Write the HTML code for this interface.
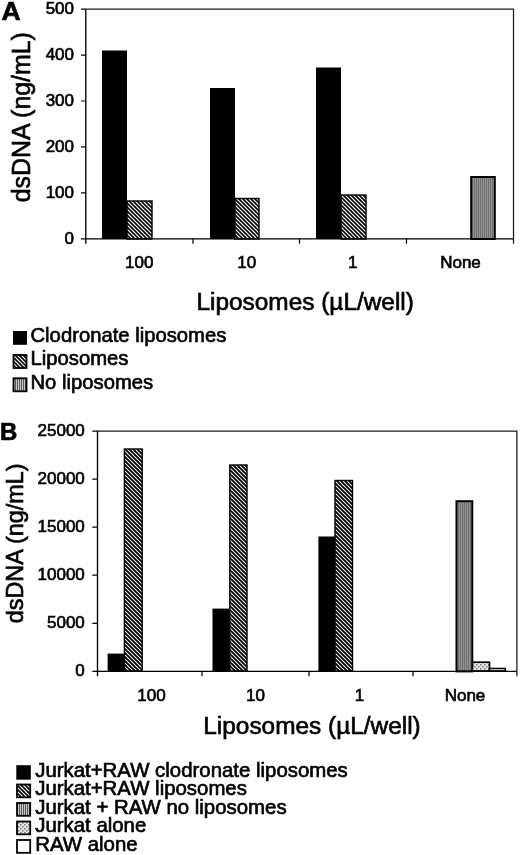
<!DOCTYPE html>
<html><head><meta charset="utf-8">
<style>
html,body{margin:0;padding:0;background:#fff;}
body{width:520px;height:855px;overflow:hidden;}
svg{display:block;filter:grayscale(1);}
text{font-family:"Liberation Sans",sans-serif;fill:#000;stroke:#000;stroke-width:0.65px;}
</style></head>
<body>
<svg width="520" height="855" viewBox="0 0 520 855">
<defs>
  <pattern id="hA" patternUnits="userSpaceOnUse" width="4" height="4">
    <rect width="4" height="4" fill="#fff"/>
    <path d="M-1,-1 L5,5 M-1,3 L1,5 M3,-1 L5,1" stroke="#000" stroke-width="1.6"/>
  </pattern>
  <pattern id="hB" patternUnits="userSpaceOnUse" width="4" height="4">
    <rect width="4" height="4" fill="#fff"/>
    <path d="M-1,-1 L5,5 M-1,3 L1,5 M3,-1 L5,1" stroke="#000" stroke-width="1.9"/>
  </pattern>
  <pattern id="vG" patternUnits="userSpaceOnUse" width="2" height="2">
    <rect width="2" height="2" fill="#929292"/>
    <rect x="0" width="1" height="2" fill="#707070"/>
  </pattern>
  <pattern id="dot" patternUnits="userSpaceOnUse" width="4" height="4">
    <rect width="4" height="4" fill="#e6e6e6"/>
    <rect x="0" y="0" width="1.5" height="1.5" fill="#777"/>
    <rect x="2" y="2" width="1.5" height="1.5" fill="#777"/>
  </pattern>
  <pattern id="vL" patternUnits="userSpaceOnUse" width="2" height="2">
    <rect width="2" height="2" fill="#c8c8c8"/>
    <rect x="1" width="1" height="2" fill="#5a5a5a"/>
  </pattern>
</defs>

<!-- ================= CHART A ================= -->
<text x="1.5" y="19.6" font-size="26.5" font-weight="bold">A</text>
<!-- y title -->
<text transform="translate(29.6,117.2) rotate(-90)" text-anchor="middle" font-size="24.9">dsDNA (ng/mL)</text>
<!-- y tick labels -->
<g font-size="17" text-anchor="end">
  <text x="74" y="14.2">500</text>
  <text x="74" y="60.1">400</text>
  <text x="74" y="106">300</text>
  <text x="74" y="151.9">200</text>
  <text x="74" y="197.8">100</text>
  <text x="74" y="243.7">0</text>
</g>
<!-- bars -->
<rect x="102" y="50.5" width="25" height="188.5" fill="#000"/>
<rect x="127" y="201" width="25" height="38" fill="url(#hA)" stroke="#000" stroke-width="1.4"/>
<rect x="210" y="88" width="25" height="151" fill="#000"/>
<rect x="235" y="198.5" width="24" height="40.5" fill="url(#hA)" stroke="#000" stroke-width="1.4"/>
<rect x="316" y="67.5" width="25" height="171.5" fill="#000"/>
<rect x="341" y="195" width="25" height="44" fill="url(#hA)" stroke="#000" stroke-width="1.4"/>
<rect x="471.2" y="177" width="23.6" height="62" fill="url(#vG)" stroke="#000" stroke-width="2"/>
<!-- frame -->
<path d="M85.8,9.2 H513.5 V243.8" fill="none" stroke="#1a1a1a" stroke-width="1.25"/>
<path d="M85.8,9.2 V243.8 M81,238.8 H513.5" fill="none" stroke="#000" stroke-width="1.35"/>
<path d="M81,9.2 H86 M81,55.1 H86 M81,101 H86 M81,146.9 H86 M81,192.8 H86 M193,238.8 V243.8 M299.5,238.8 V243.8 M406.5,238.8 V243.8" stroke="#000" stroke-width="1.2"/>
<!-- x labels -->
<g font-size="17" text-anchor="middle">
  <text x="139.3" y="268">100</text>
  <text x="246.8" y="268">10</text>
  <text x="352.8" y="268">1</text>
  <text x="460.5" y="268">None</text>
</g>
<text x="196.5" y="309.8" font-size="24.4">Liposomes (µL/well)</text>
<!-- legend A -->
<rect x="13" y="331" width="14" height="13.8" fill="#000"/>
<rect x="13.5" y="355" width="13" height="13" fill="url(#hA)" stroke="#000" stroke-width="1.8"/>
<rect x="13.5" y="378.3" width="13" height="13" fill="url(#vL)" stroke="#000" stroke-width="1.8"/>
<g font-size="20.25">
  <text x="30.5" y="341.8">Clodronate liposomes</text>
  <text x="30.5" y="365.3">Liposomes</text>
  <text x="30.5" y="388.6">No liposomes</text>
</g>

<!-- ================= CHART B ================= -->
<text x="0.1" y="440" font-size="24" font-weight="bold">B</text>
<text transform="translate(22.5,543.3) rotate(-90)" text-anchor="middle" font-size="23.4">dsDNA (ng/mL)</text>
<g font-size="17" text-anchor="end">
  <text x="84.8" y="436.3">25000</text>
  <text x="84.8" y="484.3">20000</text>
  <text x="84.8" y="532.3">15000</text>
  <text x="84.8" y="580.3">10000</text>
  <text x="84.8" y="628.3">5000</text>
  <text x="84.8" y="676.3">0</text>
</g>
<!-- bars -->
<rect x="107.6" y="653.6" width="16.8" height="17.4" fill="#000"/>
<rect x="124.4" y="449" width="17.8" height="222" fill="url(#hB)" stroke="#000" stroke-width="1.4"/>
<rect x="212.5" y="608.6" width="17.3" height="62.4" fill="#000"/>
<rect x="229.8" y="465" width="17.2" height="206" fill="url(#hB)" stroke="#000" stroke-width="1.4"/>
<rect x="318.4" y="536.5" width="16.6" height="134.5" fill="#000"/>
<rect x="335" y="480.5" width="17.5" height="190.5" fill="url(#hB)" stroke="#000" stroke-width="1.4"/>
<rect x="456.5" y="501.2" width="15.8" height="170.2" fill="url(#vG)" stroke="#000" stroke-width="2"/>
<rect x="472.5" y="662.2" width="17" height="8.8" fill="url(#dot)" stroke="#000" stroke-width="1.6"/>
<rect x="489.5" y="668.5" width="15.8" height="2.5" fill="#fff" stroke="#000" stroke-width="1.6"/>
<!-- frame -->
<path d="M97.5,431.2 H516.9 V676.3" fill="none" stroke="#1a1a1a" stroke-width="1.25"/>
<path d="M97.5,431.2 V676.3 M92.3,671.4 H516.9" fill="none" stroke="#000" stroke-width="1.35"/>
<path d="M92.3,431.2 H98 M92.3,479.2 H98 M92.3,527.2 H98 M92.3,575.2 H98 M92.3,623.3 H98 M202,671.4 V676.3 M309,671.4 V676.3 M413,671.4 V676.3" stroke="#000" stroke-width="1.2"/>
<g font-size="17" text-anchor="middle">
  <text x="151.5" y="701">100</text>
  <text x="255.5" y="701">10</text>
  <text x="359.5" y="701">1</text>
  <text x="465" y="701">None</text>
</g>
<text x="203.3" y="734.4" font-size="24.4">Liposomes (µL/well)</text>
<!-- legend B -->
<rect x="16.3" y="765.2" width="14.5" height="14.5" fill="#000"/>
<rect x="17" y="784.5" width="13.2" height="12.8" fill="url(#hA)" stroke="#000" stroke-width="1.8"/>
<rect x="17" y="803" width="13.2" height="12.8" fill="url(#vL)" stroke="#000" stroke-width="1.8"/>
<rect x="17" y="821.5" width="13.2" height="12.8" fill="url(#dot)" stroke="#000" stroke-width="1.8"/>
<rect x="17" y="840" width="13.2" height="12.8" fill="#fff" stroke="#000" stroke-width="1.8"/>
<g font-size="20.4">
  <text x="35.2" y="776.5">Jurkat+RAW clodronate liposomes</text>
  <text x="35.2" y="795">Jurkat+RAW liposomes</text>
  <text x="35.2" y="813.6">Jurkat + RAW no liposomes</text>
  <text x="35.2" y="832.2">Jurkat alone</text>
  <text x="35.2" y="850.8">RAW alone</text>
</g>
</svg>
</body></html>
